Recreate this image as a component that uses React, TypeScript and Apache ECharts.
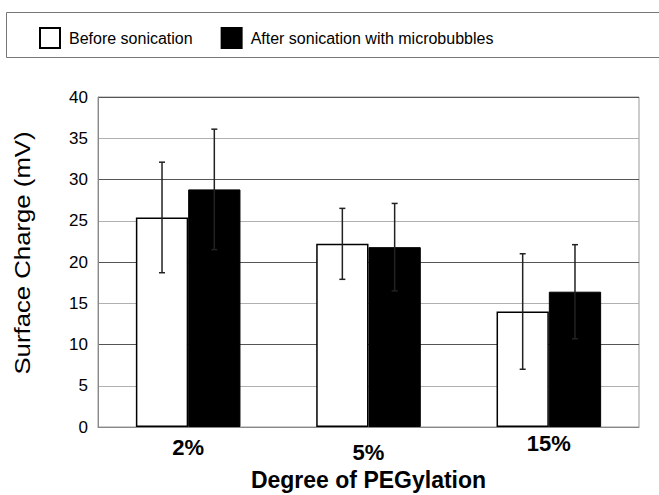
import React, { useEffect, useRef } from "react";
import * as echarts from "echarts";

const categories = ["2%", "5%", "15%"];
const categoryLabelDrop = [4, 9, 0];
const beforeValues = [25.4, 22.2, 14.0];
const afterValues = [28.8, 21.8, 16.4];
const beforeErr = [6.7, 4.3, 7.0];
const afterErr = [7.3, 5.3, 5.7];
const yTicks = [0, 5, 10, 15, 20, 25, 30, 35, 40];
const seriesNames = ["Before sonication", "After sonication with microbubbles"];
const yTitle = "Surface Charge (mV)";
const xTitle = "Degree of PEGylation";

const CAT_GAP = 0.42;
const FONT = "Liberation Sans, Arial, sans-serif";

export default function App() {
  const ref = useRef<HTMLDivElement>(null);
  useEffect(() => {
    if (!ref.current) return;
    const chart = echarts.init(ref.current, undefined, { renderer: "svg" });
    const barFrac = (1 - CAT_GAP) / 2;
    const errSeries = (vals: number[], errs: number[], side: number, name: string) => ({
      type: "custom",
      name,
      z: 10,
      silent: true,
      data: vals.map((v, i) => [i, v, errs[i]]),
      renderItem: (params: any, api: any) => {
        const i = api.value(0);
        const v = api.value(1);
        const e = api.value(2);
        const band = api.size([1, 0])[0];
        const off = (side * band * barFrac) / 2;
        const top = api.coord([i, v + e]);
        const bot = api.coord([i, v - e]);
        const x = top[0] + off;
        const cap = 3;
        const style = { stroke: "#222", lineWidth: 1.5 };
        return {
          type: "group",
          children: [
            { type: "line", shape: { x1: x, y1: top[1], x2: x, y2: bot[1] }, style },
            { type: "line", shape: { x1: x - cap, y1: top[1], x2: x + cap, y2: top[1] }, style },
            { type: "line", shape: { x1: x - cap, y1: bot[1], x2: x + cap, y2: bot[1] }, style },
          ],
        };
      },
    });
    chart.setOption({
      animation: false,
      backgroundColor: "#fff",
      textStyle: { fontFamily: FONT },
      grid: {
        left: 98,
        right: 20,
        top: 97,
        bottom: 68,
        show: true,
        borderColor: "#999",
        borderWidth: 1,
        containLabel: false,
        outerBoundsMode: "none",
      },
      legend: {
        show: true,
        data: seriesNames,
        left: 39,
        top: 27,
        padding: 0,
        itemWidth: 20,
        itemHeight: 20,
        itemGap: 28,
        icon: "rect",
        textStyle: { fontSize: 16, color: "#000", fontFamily: FONT, padding: [0, 0, 0, 4] },
      },
      graphic: [
        {
          type: "rect",
          shape: { x: 6.5, y: 12.5, width: 660, height: 45 },
          style: { fill: "none", stroke: "#777", lineWidth: 1 },
          silent: true,
        },
        {
          type: "text",
          x: 22,
          y: 253,
          rotation: Math.PI / 2,
          scaleX: 1.17,
          silent: true,
          style: {
            text: yTitle,
            fontSize: 22,
            fontFamily: FONT,
            fill: "#000",
            align: "center",
            verticalAlign: "middle",
          },
        },
      ],
      xAxis: {
        type: "category",
        data: categories.map((c, i) => ({
          value: c,
          textStyle: { padding: [categoryLabelDrop[i], 0, 0, 0] },
        })),
        axisLine: { lineStyle: { color: "#888", width: 1 } },
        axisTick: { show: false },
        axisLabel: { fontSize: 22, lineHeight: 20, fontWeight: "bold", color: "#000", margin: 6 },
        name: xTitle,
        nameLocation: "middle",
        nameGap: 42,
        nameMoveOverlap: false,
        nameTextStyle: { fontSize: 23, lineHeight: 22, fontWeight: "bold", color: "#000" },
      },
      yAxis: {
        type: "value",
        min: 0,
        max: 40,
        interval: 5,
        axisLine: { show: true, lineStyle: { color: "#888" } },
        axisTick: { show: false },
        axisLabel: {
          fontSize: 17,
          color: "#000",
          margin: 10,
          formatter: (v: number) => (yTicks.includes(v) ? String(v) : ""),
        },
        splitLine: { lineStyle: { color: ["#555", "#b0b0b0"], width: 1 } },
      },
      series: [
        {
          type: "bar",
          name: seriesNames[0],
          data: beforeValues,
          barGap: "0%",
          barCategoryGap: `${CAT_GAP * 100}%`,
          itemStyle: { color: "#fff", borderColor: "#000", borderWidth: 1.5 },
        },
        {
          type: "bar",
          name: seriesNames[1],
          data: afterValues,
          itemStyle: { color: "#000", borderColor: "#000", borderWidth: 1 },
        },
        errSeries(beforeValues, beforeErr, -1, "errBefore"),
        errSeries(afterValues, afterErr, 1, "errAfter"),
      ],
    });
    return () => chart.dispose();
  }, []);
  return <div ref={ref} style={{ width: 659, height: 495, position: "absolute", left: 0, top: 0 }} />;
}
